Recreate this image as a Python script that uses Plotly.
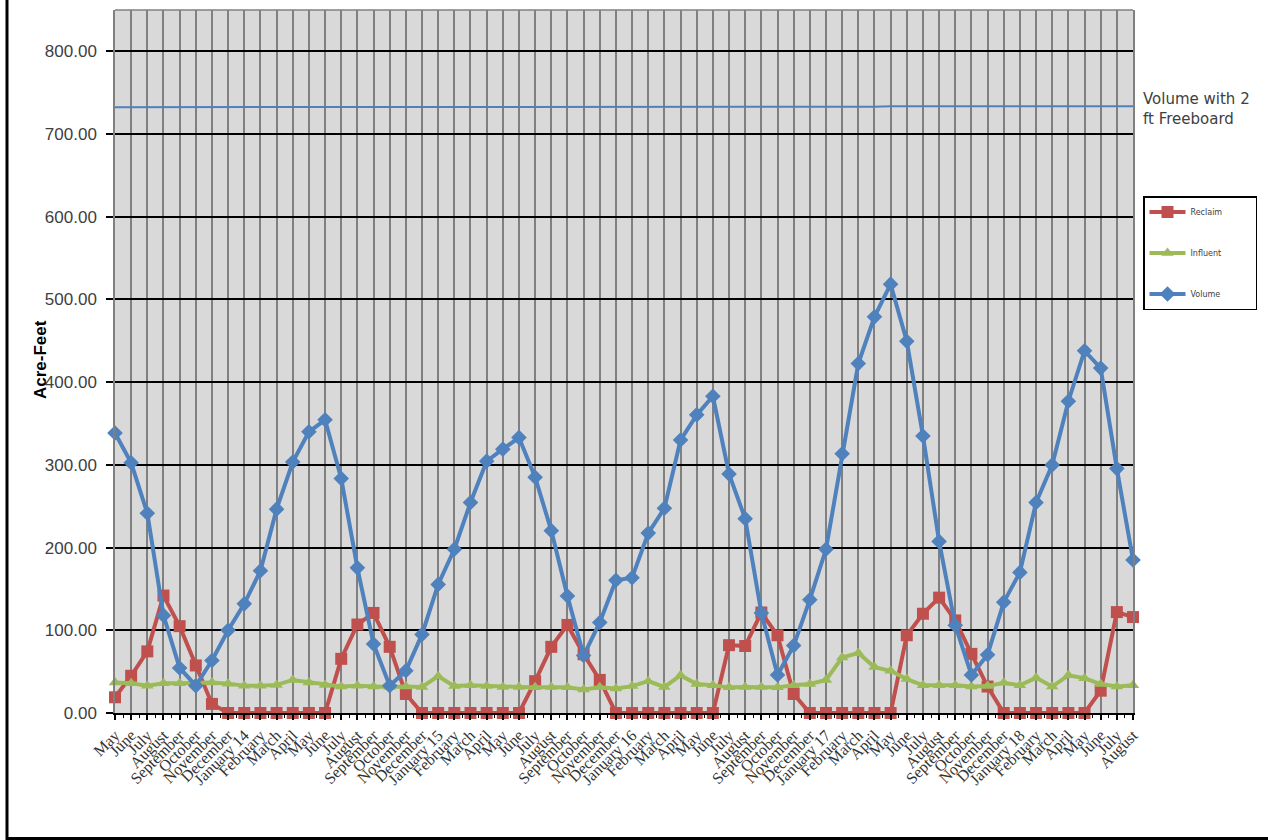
import plotly.graph_objects as go

months = ["May", "June", "July", "August", "September", "October", "November", "December",
          "January 14", "February", "March", "April", "May", "June", "July", "August",
          "September", "October", "November", "December",
          "January 15", "February", "March", "April", "May", "June", "July", "August",
          "September", "October", "November", "December",
          "January 16", "February", "March", "April", "May", "June", "July", "August",
          "September", "October", "November", "December",
          "January 17", "February", "March", "April", "May", "June", "July", "August",
          "September", "October", "November", "December",
          "January 18", "February", "March", "April", "May", "June", "July", "August"]

reclaim = [19, 45, 74.5, 142, 105, 57.5, 11, 0, 0, 0, 0, 0, 0, 0, 65.5, 107, 121, 80, 23, 0,
           0, 0, 0, 0, 0, 0, 38.5, 80, 106.5, 71, 40, 0, 0, 0, 0, 0, 0, 0, 82, 81,
           121.5, 94, 23, 0, 0, 0, 0, 0, 0, 94, 120, 139.5, 112, 71.5, 32, 0, 0, 0, 0, 0,
           0, 27, 122, 116]

influent = [37, 36, 33, 36, 36, 36, 37, 35.5, 33, 33, 34, 40, 37, 34, 32, 33, 32, 31.5, 32, 31.5,
            44.5, 32.5, 33.5, 32.5, 31.5, 31.5, 31, 31.5, 31, 28.5, 31, 29.5, 32.5, 38.5, 31.5, 45.5,
            35, 33.5, 31, 31.5, 31.5, 31, 33.5, 35, 40, 67, 72.5, 55.5, 51, 41, 33.5, 33.5,
            33.5, 32, 32.5, 36.5, 33.5, 42.5, 32, 45.5, 42, 35, 32, 33.5]

volume = [338.5, 302.5, 241.5, 118, 54.5, 33, 63.5, 100, 132, 172, 246.5, 303.5, 340, 354.5, 283.5, 175.5,
          83.5, 33, 51, 95, 155.5, 198, 254.5, 304.5, 319, 333, 285, 220.5, 141.5, 69.5, 109.5, 160.5,
          163.5, 217.5, 247.5, 330, 360.5, 383, 289, 235, 121, 46, 81.5, 137, 198, 313.5, 422.5, 479,
          518.5, 449.5, 335, 207.5, 106, 46, 70.5, 134, 170, 254.5, 300, 377, 438, 417, 295.5, 185]

freeboard = [732.5, 732.5, 732.5, 732.5, 732.5, 732.5, 732.5, 732.5, 732.5, 732.5, 732.5, 732.5, 732.5, 732.5, 732.5, 732.5,
             733, 733, 733, 733, 733, 733, 733, 733, 733, 733, 733, 733, 733, 733, 733, 733,
             733, 733, 733, 733, 733, 733, 733, 733, 733, 733, 733, 733, 733, 733, 733, 733,
             733.5, 733.5, 733.5, 733.5, 733.5, 733.5, 733.5, 733.5, 733.5, 733.5, 733.5, 733.5, 733.5, 733.5, 733.5, 733.5]

yticks = [0, 100, 200, 300, 400, 500, 600, 700, 800]

x = list(range(len(months)))

RED = "#C0504D"
GREEN = "#9BBB59"
BLUE = "#4F81BD"
PAD = "\u00a0" * 11

fig = go.Figure()
fig.add_trace(go.Scatter(x=x, y=freeboard, mode="lines", line=dict(color=BLUE, width=2),
                         showlegend=False, hoverinfo="skip", cliponaxis=False))
fig.add_trace(go.Scatter(x=x, y=reclaim, name="Reclaim" + PAD, mode="lines+markers", legendgroup="a",
                         line=dict(color=RED, width=4),
                         marker=dict(symbol="square", size=12, color=RED), cliponaxis=False))
fig.add_trace(go.Scatter(x=x, y=influent, name="Influent" + PAD, mode="lines+markers", legendgroup="b",
                         line=dict(color=GREEN, width=4),
                         marker=dict(symbol="triangle-up", size=11, color=GREEN), cliponaxis=False))
fig.add_trace(go.Scatter(x=x, y=volume, name="Volume" + PAD, mode="lines+markers", legendgroup="c",
                         line=dict(color=BLUE, width=4),
                         marker=dict(symbol="diamond", size=12, color=BLUE), cliponaxis=False))

L, R, T, B = 115, 135, 10, 127
W, H = 1268, 840
pw, ph = W - L - R, H - T - B

def px_x(p):
    return (p - L) / pw

def px_y(p):
    return (H - B - p) / ph

fig.update_layout(
    width=W, height=H,
    margin=dict(l=L, r=R, t=T, b=B, autoexpand=False),
    paper_bgcolor="white",
    plot_bgcolor="#D9D9D9",
    font=dict(family="Liberation Sans, Arial", color="#404040"),
    legend=dict(x=px_x(1143), y=px_y(196), xanchor="left", yanchor="top",
                bgcolor="white", bordercolor="black", borderwidth=1.5,
                font=dict(family="DejaVu Sans", size=8, color="#404040"),
                tracegroupgap=22, itemwidth=36),
    xaxis=dict(range=[0, 63], tickmode="array", tickvals=x, ticktext=months,
               tickangle=-45, tickfont=dict(family="Liberation Serif, Times New Roman", size=16, color="#333333"),
               showgrid=True, gridcolor="#808080", gridwidth=1.5,
               showline=True, linecolor="black", linewidth=1.5,
               ticks="outside", ticklen=5, tickcolor="black", tickwidth=1.5,
               minor=dict(tickvals=[i + 0.5 for i in range(63)], ticks="outside", ticklen=3,
                          tickcolor="black", tickwidth=1, showgrid=False),
               zeroline=False, fixedrange=True),
    yaxis=dict(range=[0, 850], tickmode="array", tickvals=yticks, tickformat=".2f",
               tickfont=dict(family="Liberation Sans, Arial", size=17, color="#404040"),
               showgrid=True, gridcolor="black", gridwidth=1.5,
               showline=True, linecolor="#808080", linewidth=1.5, mirror=True,
               ticks="outside", ticklen=7, tickcolor="black", tickwidth=1.5,
               ticklabelstandoff=6, zeroline=False),
    shapes=[
        dict(type="line", xref="paper", yref="paper", x0=0, x1=1, y0=1, y1=1,
             line=dict(color="#808080", width=1.5)),
        dict(type="line", xref="paper", yref="paper", x0=px_x(7), x1=px_x(7), y0=px_y(0), y1=px_y(840),
             line=dict(color="black", width=3)),
        dict(type="line", xref="paper", yref="paper", x0=px_x(6), x1=px_x(1268), y0=px_y(838.5), y1=px_y(838.5),
             line=dict(color="black", width=3)),
    ],
    annotations=[
        dict(text="<b>Acre-Feet</b>", xref="paper", yref="paper", x=px_x(40), y=px_y(360),
             textangle=-90, showarrow=False, font=dict(family="Liberation Sans, Arial", size=17, color="black"),
             xanchor="center", yanchor="middle"),
        dict(text="Volume with 2<br>ft Freeboard", xref="paper", yref="paper", x=px_x(1141), y=px_y(88),
             showarrow=False, align="left", xanchor="left", yanchor="top",
             font=dict(family="DejaVu Sans", size=15, color="#404040")),
    ],
)

fig.write_html("out.html", config={"displayModeBar": False},
               post_script="document.body.style.margin='0';")
